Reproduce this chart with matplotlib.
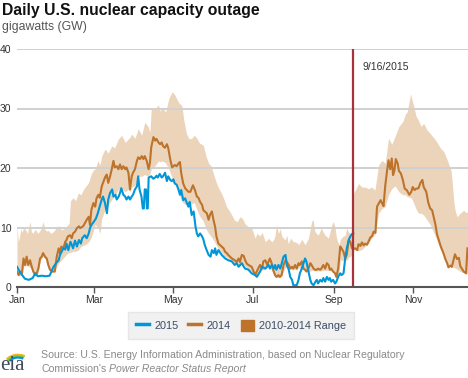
import matplotlib
matplotlib.use("Agg")
import matplotlib.pyplot as plt
from matplotlib.lines import Line2D
from matplotlib.patches import Patch, Arc
from matplotlib import font_manager

# ---------------- data (day of year, GW) ----------------
days_2015 = [0, 2, 4, 6, 9, 12, 14, 16, 19, 22, 25, 27, 28, 30, 32, 33, 35.6, 37, 38, 39.4,
             41, 42, 43, 44.5, 46, 47.5, 49, 50, 52, 53.5, 55, 56, 57, 59, 60.5, 62, 63.5, 65,
             66, 67.5, 69, 70, 71.4, 73, 74, 75.5, 76.5, 78, 79, 80, 81.6, 83, 84, 85.5, 86.7,
             88, 89, 90.5, 92, 93, 94, 95.5, 96.5, 97.3, 98, 99, 99.7, 100.3, 101, 103, 104.5, 106,
             107, 108, 109.5, 111, 112, 113.6, 115, 116, 117.5, 118.7, 120, 121, 122.5, 124, 125,
             126, 127.5, 129, 130, 131.5, 132.5, 134, 135.5, 137, 138, 139, 140.5, 142, 143, 144,
             145.5, 147, 148.5, 149.5, 151, 152, 153, 154.5, 156, 157, 159.7, 162, 164.8, 167,
             168.5, 170, 172.5, 174, 175, 177.6, 180, 182.7, 184, 186.5, 188, 190.5, 193, 194,
             195.5, 197, 198, 199, 200.6, 202, 203, 204.5, 206, 207, 208.5, 209.6, 211, 212,
             214.6, 216, 217, 218.5, 219.8, 221, 222, 223.6, 225, 226, 227.5, 229, 230, 231,
             232.6, 234, 235, 236.4, 237.7, 239, 240, 241, 242.5, 244, 245, 246.4, 248, 249,
             250.5, 251.8, 253, 254.5, 255.7, 257, 258]
gw_2015 = [3.4, 2.6, 2.0, 1.4, 1.2, 1.5, 2.3, 1.8, 1.9, 1.8, 1.9, 2.9, 3.4, 4.0, 4.5, 5.4, 6.5, 6.3, 7.3, 6.2,
           7.6, 7.1, 6.5, 7.8, 6.8, 7.9, 7.3, 8.2, 8.7, 8.2, 9.0, 9.9, 10.4, 11.0, 11.5, 12.4, 13.6, 14.7,
           15.2, 14.1, 12.4, 14.7, 15.8, 16.4, 15.2, 15.5, 14.7, 15.2, 15.8, 16.6, 15.5, 15.2, 14.7, 15.2, 14.7,
           15.2, 15.5, 16.4, 16.9, 18.6, 16.4, 15.2, 13.2, 13.2, 16.4, 16.4, 13.2, 13.2, 18.4, 18.6, 18.2, 18.4,
           18.7, 18.4, 19.0, 18.4, 18.6, 19.2, 17.8, 18.6, 18.0, 17.8, 18.1, 17.4, 17.2, 16.3, 15.5,
           16.3, 14.6, 14.9, 14.3, 13.5, 14.3, 12.1, 12.7, 10.1, 9.0, 8.5, 9.0, 8.5, 8.0, 7.1,
           6.2, 5.4, 5.1, 6.2, 5.7, 6.5, 5.4, 6.2, 5.7, 5.4, 4.8, 4.5, 4.3, 3.7,
           4.0, 3.4, 4.0, 3.4, 3.1, 2.9, 2.3, 2.0, 1.7, 2.6, 3.4, 3.1, 3.7, 3.1,
           3.7, 3.1, 3.7, 2.9, 3.7, 3.1, 3.9, 5.1, 5.4, 3.7, 2.9, 1.7, 1.2, 0.3,
           0.3, 1.2, 2.3, 3.1, 4.0, 4.8, 4.3, 2.6, 1.2, 0.6, 0.3, 0.9, 1.2, 0.6,
           1.2, 0.9, 1.5, 0.9, 1.7, 1.2, 1.5, 0.9, 1.2, 0.6, 0.9, 1.7, 2.3, 2.0,
           2.3, 4.8, 6.5, 7.9, 8.5, 8.9, 9.0]

days_2014 = [0, 1.3, 2.5, 3.8, 5, 6.2, 7.4, 8.6, 10, 11.3, 12.5, 14, 15.1, 16.4, 17.7, 19, 20, 21.5,
             22.8, 24, 25.3, 27, 29, 30.5, 32, 33, 34, 35.6, 37, 38, 39, 40.7, 42, 43, 44.5, 46,
             47.5, 48.5, 50, 51, 52, 53.5, 55, 56, 57, 58.6, 60, 61, 62.4, 63.5, 65, 67.5, 68.8,
             70, 71.4, 72.7, 74, 75, 76.5, 77.8, 79, 80.3, 81.6, 83, 84, 85.5, 86.7, 88, 89, 90.5,
             92, 93, 94.4, 95.7, 97, 98, 99.5, 101, 102, 103, 104.7, 106, 107, 108.5, 109.8, 111,
             112, 113.5, 115, 116, 117.5, 119, 121, 122.5, 124, 125, 126, 127.5, 129, 131.5, 133,
             135, 136.5, 138, 139.2, 140.5, 142, 143, 144.5, 145.6, 147, 148, 149.5, 150.7, 152,
             153, 154.5, 156, 157, 158.5, 159.7, 161, 162, 164.8, 167, 168.5, 170, 171, 172.5,
             174, 175, 176.4, 177.6, 180, 182.7, 184, 185, 186.5, 188, 189, 190.5, 192, 193, 194,
             195.5, 196.5, 198, 199, 200.6, 201.6, 203, 204.5, 206, 207, 208.5, 209.6, 211, 212,
             213.4, 214.6, 216, 217, 218.5, 219.8, 221, 222, 223.6, 225, 226, 227.5, 228.6, 230,
             231, 232.6, 233.5, 235, 236.4, 237.7, 239, 240, 241, 242.5, 244, 245, 246.4, 248,
             249, 250.5, 251.8, 253, 254.5, 255.7, 257, 258, 259.5, 261, 262, 263.5, 264.6, 266,
             267, 268.5, 269.8, 271, 272.5, 273.6, 275, 276.2, 277.4, 279, 280, 281.2, 282.5, 284,
             285, 286.3, 287.5, 288.5, 289.5, 290.6, 292, 293, 294.5, 296, 297.5, 299, 301, 302.5,
             303.6, 305, 306, 308, 309.5, 311, 312, 314, 315.5, 317, 318.5, 320, 321, 322.3, 323.3,
             325, 327.3, 328.6, 330, 331, 332.4, 333.6, 335, 336, 337.6, 339, 340.1, 341.5, 342.7,
             344.5, 345.6]
gw_2014 = [2.6, 2.0, 2.6, 2.3, 4.8, 3.7, 5.1, 3.7, 4.5, 3.4, 2.6, 2.0, 2.3, 3.1, 4.8, 5.1, 5.7, 5.1,
           4.8, 3.7, 2.9, 2.6, 2.6, 5.1, 6.5, 5.7, 6.8, 6.5, 7.6, 7.9, 8.5, 8.7, 8.2, 9.0, 9.3, 9.9,
           10.2, 9.9, 10.1, 10.3, 10.7, 11.3, 11.8, 10.4, 12.9, 14.1, 13.5, 14.9, 15.5, 15.0, 16.9, 18.4, 18.9,
           17.5, 18.6, 19.8, 21.2, 20.1, 20.3, 19.8, 20.6, 19.8, 20.3, 19.8, 20.1, 19.2, 16.4, 18.6, 19.2, 19.8,
           21.2, 21.8, 21.5, 22.0, 21.5, 22.0, 21.2, 19.8, 20.9, 23.5, 25.2, 24.6, 24.9, 24.3, 24.0, 24.3,
           23.7, 23.4, 24.0, 23.4, 21.5, 20.1, 20.5, 20.3, 20.8, 21.0, 19.1, 17.4, 16.6, 16.0, 16.0,
           17.1, 16.3, 15.2, 15.0, 14.3, 13.8, 12.9, 12.6, 12.4, 11.3, 12.1, 12.7, 11.3, 10.1,
           8.5, 7.3, 7.0, 6.8, 6.5, 5.9, 5.7, 5.4, 4.8, 4.5, 4.2, 4.8, 4.2, 5.4,
           5.2, 4.5, 3.9, 3.7, 3.4, 2.0, 2.6, 3.1, 3.7, 3.1, 4.3, 4.5, 3.7, 4.3, 4.8,
           3.9, 2.9, 2.0, 1.7, 2.0, 1.7, 2.0, 3.7, 4.5, 4.2, 3.7, 3.1, 3.4, 3.1,
           3.7, 3.1, 4.0, 3.7, 4.3, 3.1, 2.9, 2.6, 3.1, 4.0, 3.7, 3.1, 2.9, 2.9,
           3.1, 2.9, 3.1, 3.7, 3.1, 4.0, 3.7, 2.9, 3.1, 2.6, 2.3, 1.7, 3.1, 6.8,
           6.5, 5.9, 4.8, 5.4, 7.9, 7.6, 6.5, 6.4, 6.5, 6.2, 7.2, 6.9, 7.5, 7.0,
           7.3, 7.1, 7.7, 8.3, 8.6, 9.3, 9.1, 13.5, 14.0, 14.6, 14.1, 13.6, 17.0, 19.7,
           21.3, 19.8, 21.6, 18.8, 19.5, 21.5, 20.8, 19.5, 19.1, 18.0, 16.5, 16.3, 15.5, 16.0,
           16.8, 16.3, 16.5, 16.6, 17.5, 18.0, 16.8, 16.0, 14.2, 13.2, 12.9, 11.5, 10.5, 8.8, 8.1,
           6.9, 5.6, 4.7, 4.0, 3.3, 3.6, 3.4, 4.6, 5.5, 4.7, 4.9, 3.5, 3.0, 2.6,
           2.3, 6.5]

days_range = [0, 1, 2, 3, 4, 5, 7, 8, 10, 11, 12, 14, 16, 18, 19, 20, 21.5, 23, 24, 26, 28, 30, 32,
              34, 36, 38, 40, 41, 43, 45, 47, 49, 51, 53, 55, 57, 59, 60, 62, 63.7, 65, 67.5, 70,
              72.7, 75, 77.8, 80.3, 83, 85.5, 86.7, 88, 90.5, 93, 95.7, 98, 100.5, 102, 103, 106,
              108.5, 110, 111, 114, 116.5, 119, 120, 121, 124, 126.5, 128, 130, 132, 134, 136, 138,
              140, 143, 145, 147, 149, 151, 153, 155, 157, 159, 161, 163, 165, 167, 169, 171, 173,
              175, 177.6, 180, 182.7, 184, 186.5, 188, 190.5, 193, 195.5, 197, 198, 199, 200.6, 202,
              203, 205.6, 207, 208, 210, 212, 213.4, 215, 216, 218.5, 221, 223.6, 226, 227.2, 228.6,
              231, 233.5, 236, 238.9, 241.4, 242.7, 244, 245, 246, 247.3, 248, 250, 251.8, 253,
              254.5, 256, 257.5, 258.3, 259.6, 262, 264.6, 267, 269.8, 272, 274.6, 277.4, 280,
              282.5, 285, 287.5, 290, 293, 296, 298, 299.3, 302, 303, 304.5, 306, 308, 310, 312,
              314.5, 317, 320, 322.3, 325, 327.3, 330, 333, 334, 335, 336, 337.6, 340, 342.7, 344.5,
              346]
range_low = [2.0, 1.9, 1.9, 1.9, 2.1, 3.5, 3.6, 3.6, 3.3, 3.2, 2.5, 1.9, 2.2, 4.5, 4.8, 5.2, 4.8, 4.3,
             3.5, 2.7, 2.5, 3.2, 4.0, 4.5, 5.0, 5.5, 5.8, 5.8, 6.0, 6.0, 6.2, 6.8, 7.0, 7.2, 7.6, 8.4,
             9.8, 10.5, 10.0, 9.0, 11.5, 13.0, 13.8, 14.7, 15.3, 16.4, 16.5, 16.0, 16.4, 16.0, 16.8,
             17.0, 18.6, 18.6, 18.9, 18.6, 19.0, 19.8, 20.4, 21.2, 21.0, 21.2, 20.9, 19.8, 18.4, 18.0,
             17.5, 15.8, 14.4, 14.0, 13.8, 13.5, 14.0, 14.2, 13.0, 12.0, 11.0, 9.8, 9.0, 8.5, 7.8,
             7.0, 6.2, 5.8, 5.2, 5.0, 4.6, 4.3, 4.0, 3.8, 3.6, 4.0, 3.5, 3.0, 2.6, 1.9, 2.0, 2.6, 2.8,
             3.0, 3.5, 2.8, 2.0, 1.8, 1.6, 1.6, 1.6, 1.8, 3.2, 3.4, 3.3, 2.9, 2.9, 3.0, 2.9, 3.3, 3.0,
             2.7, 2.5, 2.8, 2.8, 2.7, 2.7, 2.7, 2.8, 2.8, 2.7, 2.4, 2.0, 1.6, 1.6, 2.8, 4.5, 4.5, 4.5,
             4.5, 5.0, 5.2, 5.5, 6.2, 6.3, 6.1, 6.3, 6.8, 7.4, 8.2, 8.8, 12.4, 13.2, 13.5, 15.5, 16.5,
             17.0, 16.0, 15.5, 15.5, 15.2, 15.0, 14.8, 14.0, 13.2, 12.4, 12.4, 12.1, 11.3, 10.5, 9.0,
             7.8, 6.2, 5.5, 4.0, 3.3, 3.3, 3.3, 3.2, 3.0, 2.6, 2.4, 2.2, 2.2]
range_high = [10.4, 7.6, 8.5, 9.8, 9.2, 10.0, 9.5, 9.0, 11.0, 9.4, 9.0, 9.7, 9.0, 9.6, 10.2, 11.0, 9.6,
              9.4, 9.5, 9.0, 9.3, 9.9, 10.3, 9.6, 9.8, 10.2, 10.7, 14.5, 15.0, 14.5, 15.8, 15.5, 16.4,
              17.0, 17.6, 19.0, 19.8, 19.8, 21.2, 20.5, 22.0, 23.2, 22.5, 23.7, 23.4, 24.9, 25.5, 24.3,
              24.9, 25.2, 25.7, 25.0, 26.6, 25.5, 27.7, 27.0, 26.0, 30.0, 30.0, 30.6, 29.5, 30.3, 29.4,
              31.7, 32.8, 32.6, 32.3, 31.0, 30.5, 28.0, 25.8, 24.9, 25.0, 25.5, 25.0, 24.2, 23.8, 22.0,
              20.8, 20.3, 18.8, 17.5, 16.5, 15.7, 14.6, 13.4, 12.8, 12.0, 11.2, 11.0, 11.8, 11.5, 10.6,
              10.1, 10.0, 8.2, 9.0, 8.6, 9.2, 7.6, 8.2, 7.6, 8.0, 8.7, 10.4, 9.0, 9.8, 8.6, 7.9, 8.7,
              7.3, 8.2, 7.6, 7.6, 7.4, 7.1, 8.0, 7.1, 8.2, 11.0, 11.3, 9.3, 8.7, 9.9, 8.8, 8.2, 10.4,
              11.0, 10.0, 8.4, 7.6, 7.1, 8.0, 8.5, 8.7, 9.9, 9.2, 9.0, 10.0, 15.8, 16.3, 17.4, 16.8,
              16.8, 16.5, 16.8, 16.3, 20.5, 21.3, 20.8, 25.0, 24.0, 25.3, 27.0, 27.8, 29.1, 29.4, 32.5,
              31.5, 30.3, 28.8, 28.0, 27.0, 27.5, 26.4, 25.8, 25.0, 24.3, 23.3, 22.8, 21.4, 19.6, 17.4,
              14.6, 13.0, 11.8, 12.4, 12.9, 12.5, 12.7]

month_ticks = [0, 59, 120, 181, 243, 304]
month_labels = ["Jan", "Mar", "May", "Jul", "Sep", "Nov"]
y_ticks = [0, 10, 20, 30, 40]
marker_day = 258
marker_label = "9/16/2015"

# ---------------- styling ----------------
BLUE = "#0096d7"
ORANGE = "#bd732a"
BAND = "#ecd4bb"
REG = ["Liberation Sans", "DejaVu Sans"]
_names = {f.name for f in font_manager.fontManager.ttflist}
if "Liberation Sans Narrow" in _names:
    NARROW, NS = ["Liberation Sans Narrow", "DejaVu Sans"], 1.0
else:
    NARROW, NS = REG, 0.87

W, H = 468, 378
fig = plt.figure(figsize=(W / 100, H / 100), dpi=100)
fig.patch.set_facecolor("white")

ax_left, ax_right, ax_top, ax_bot = 17, 468, 49, 287
ax = fig.add_axes([ax_left / W, 1 - ax_bot / H, (ax_right - ax_left) / W, (ax_bot - ax_top) / H])
ax.set_xlim(0, 346)
ax.set_ylim(0, 40)

ax.fill_between(days_range, range_low, range_high, color=BAND, lw=0, zorder=1)
for yv in y_ticks[1:]:
    ax.axhline(yv, color="#d0d0d0", lw=1.4, zorder=1.5)
ax.plot(days_2014, gw_2014, color=ORANGE, lw=1.5, zorder=3, solid_joinstyle="round")
ax.plot(days_2015, gw_2015, color=BLUE, lw=1.5, zorder=4, solid_joinstyle="round")
ax.axvline(marker_day, color="#a8323a", lw=1.6, zorder=5)
ax.text(marker_day + 6.8, 37, marker_label, fontsize=8.6 * NS, family=NARROW, color="#333333",
        va="center", ha="left")

for s in ["top", "right", "left"]:
    ax.spines[s].set_visible(False)
ax.spines["bottom"].set_color("#555555")
ax.spines["bottom"].set_linewidth(1.5)
ax.spines["bottom"].set_zorder(6)
ax.set_xticks(month_ticks)
ax.set_xticklabels(month_labels, fontsize=8.6 * NS, family=NARROW, color="#333333")
ax.tick_params(axis="x", length=4, width=1, color="#555555", pad=1.5)
ax.set_yticks(y_ticks)
ax.set_yticklabels([str(v) for v in y_ticks], fontsize=8.6 * NS, family=NARROW, color="#333333")
ax.tick_params(axis="y", length=0, pad=4)
ax.patch.set_alpha(0)

# titles
fig.text(2 / W, 1 - 10 / H, "Daily U.S. nuclear capacity outage", fontsize=11.3, fontweight="bold",
         family=REG, color="#111111", va="center", ha="left")
fig.text(2 / W, 1 - 27 / H, "gigawatts (GW)", fontsize=8.8, family=REG, color="#555555",
         va="center", ha="left")

# legend
handles = [Line2D([], [], color=BLUE, lw=2.5),
           Line2D([], [], color=ORANGE, lw=2.5),
           Patch(facecolor=ORANGE, edgecolor=ORANGE)]
leg = fig.legend(handles, ["2015", "2014", "2010-2014 Range"], loc="center",
                 bbox_to_anchor=(241 / W, 1 - 325.5 / H), ncol=3, frameon=True, fancybox=False,
                 prop={"family": NARROW, "size": 9 * NS}, handlelength=1.2, handleheight=1.25,
                 handletextpad=0.5, columnspacing=0.9, borderpad=0.7)
leg.get_frame().set_facecolor("#eeeeee")
leg.get_frame().set_edgecolor("#e2e2e2")
for t in leg.get_texts():
    t.set_color("#3b4d66")

# source
fig.text(41 / W, 1 - 355.5 / H,
         "Source: U.S. Energy Information Administration, based on Nuclear Regulatory",
         fontsize=7.6, family=REG, color="#8a8a8a", va="center", ha="left")
fig.text(41 / W, 1 - 368.5 / H, "Commission's", fontsize=7.6, family=REG, color="#8a8a8a",
         va="center", ha="left")
fig.text(109 / W, 1 - 368.5 / H, "Power Reactor Status Report", fontsize=7.6, family=REG,
         style="italic", color="#8a8a8a", va="center", ha="left")

# eia logo
fig.text(0 / W, 1 - 366 / H, "eia", fontsize=15, family=["Liberation Serif", "DejaVu Serif"],
         color="#3d4a58", va="center", ha="left")
lax = fig.add_axes([0, 1 - 374 / H, 32 / W, 26 / H])
lax.set_xlim(0, 32)
lax.set_ylim(0, 26)
lax.axis("off")
for r, c in [(14, "#f2b51c"), (12.3, "#8dc63f"), (10.6, "#0096d7")]:
    lax.add_patch(Arc((18, 8), 2 * r, 2 * r * 0.8, theta1=55, theta2=150, color=c, lw=1.6))

fig.savefig("out.png", dpi=100)
